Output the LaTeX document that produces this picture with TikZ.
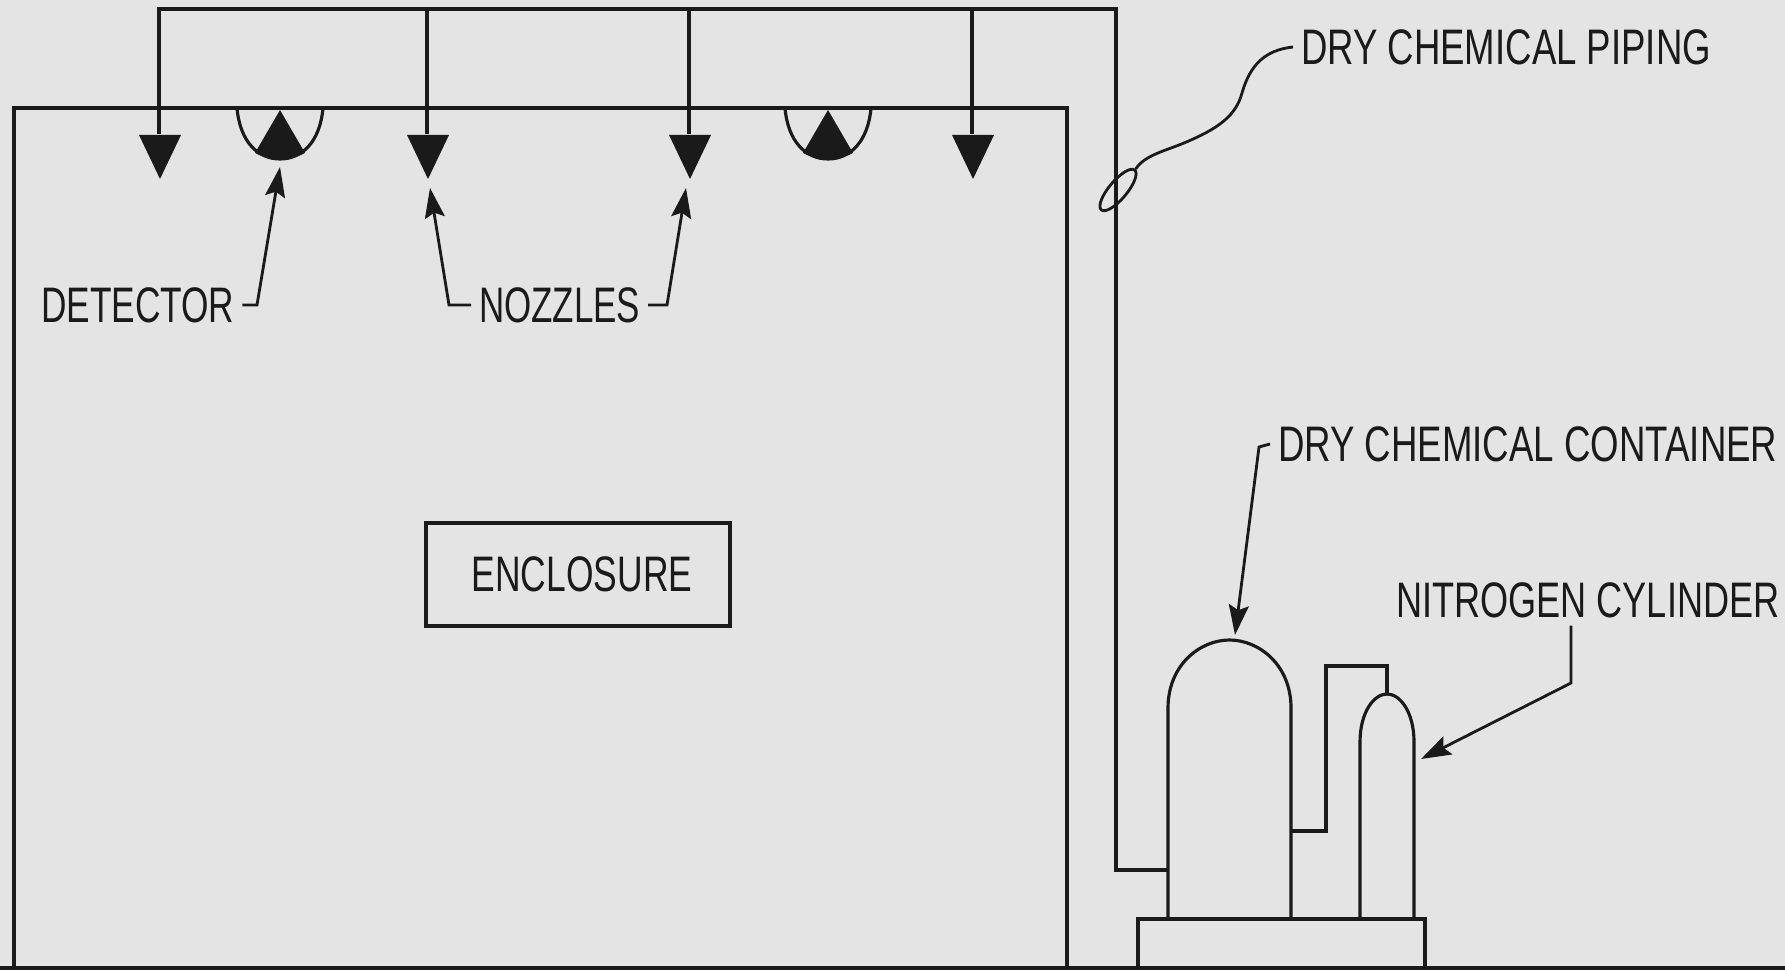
\documentclass[tikz,border=0pt]{standalone}
\usepackage{fontspec}
\setmainfont{Liberation Sans}
\usetikzlibrary{arrows.meta,shapes.geometric}
\definecolor{panelgray}{HTML}{E4E4E4}
\definecolor{inkgray}{HTML}{1A1A1A}
\newcommand{\narrowlabel}[2][0.7]{\scalebox{#1}[1]{#2}}
\tikzset{
  pipe/.style={inkgray,line width=0.9pt},
  wall/.style={inkgray,line width=1.1pt},
  leader/.style={inkgray,line width=0.8pt},
  tipped/.style={leader,-{Stealth[length=0.3cm,width=0.2cm,inset=0.05cm]}},
  tag/.style={anchor=west,inner sep=0pt,outer sep=0.08cm,text=inkgray,
    font=\fontsize{14.2}{16}\selectfont},
}
\begin{document}
\begin{tikzpicture}[x=1cm,y=1cm]
  \path[use as bounding box,fill=panelgray] (0,0) rectangle (17.85,9.70);
  % enclosure
  \draw[wall] (0.14,0.02) -- (0.14,8.62) -- (10.67,8.62) -- (10.67,0.02);
  \draw[wall] (0,0.02) -- (17.85,0.02);
  \node[draw=inkgray,line width=0.9pt,minimum width=3.04cm,minimum height=1.03cm,
    inner sep=0pt,text=inkgray,font=\fontsize{14.2}{16}\selectfont]
    (boxEnclosure) at (5.78,3.955) {\hspace{0.08cm}\narrowlabel[0.71]{ENCLOSURE}};
  % piping and nozzles
  \draw[wall] (1.59,8.36) -- (1.59,9.61) -- (11.16,9.61) -- (11.16,1.00) -- (11.68,1.00);
  \foreach \x/\name in {1.59/a,4.27/b,6.89/c,9.72/d} {
    \draw[pipe] (\x,9.61) -- (\x,8.36);
    \fill[inkgray] (\x-0.20,8.35) -- (\x+0.22,8.35) -- (\x+0.01,7.91) -- cycle;
    \coordinate (nozzle\name) at (\x,7.91);
  }
  % detectors
  \foreach \x/\name in {2.80/a,8.28/b} {
    \draw[pipe] (\x-0.43,8.62) .. controls (\x-0.40,8.28) and (\x-0.22,8.11) ..
      (\x,8.11) .. controls (\x+0.22,8.11) and (\x+0.40,8.28) .. (\x+0.43,8.62);
    \fill[inkgray] (\x,8.60) -- (\x+0.25,8.17) .. controls (\x+0.1,8.09) and
      (\x-0.1,8.09) .. (\x-0.25,8.17) -- cycle;
    \coordinate (detector\name) at (\x,8.11);
  }
  % container, cylinder, base
  \draw[pipe] (11.68,0.51) -- (11.68,2.62) .. controls (11.68,3.05) and (12.00,3.30) ..
    (12.295,3.30) .. controls (12.59,3.30) and (12.91,3.05) .. (12.91,2.62) -- (12.91,0.51);
  \draw[pipe] (13.60,0.51) -- (13.60,2.28) .. controls (13.60,2.58) and (13.74,2.76) ..
    (13.87,2.76) .. controls (14.00,2.76) and (14.14,2.58) .. (14.14,2.28) -- (14.14,0.51);
  \draw[pipe] (12.91,1.39) -- (13.26,1.39) -- (13.26,3.04) -- (13.87,3.04) -- (13.87,2.76);
  \draw[wall] (11.38,0.02) -- (11.38,0.51) -- (14.25,0.51) -- (14.25,0.02);
  % labels
  \node[tag] (lblDetector) at (0.33,6.65) {\narrowlabel[0.707]{DETECTOR}};
  \node[tag] (lblNozzles) at (4.71,6.65) {\narrowlabel{NOZZLES}};
  \node[tag] (lblPiping) at (12.93,9.23) {\narrowlabel[0.733]{DRY CHEMICAL PIPING}};
  \node[tag] (lblContainer) at (12.70,5.26) {\narrowlabel[0.734]{DRY CHEMICAL CONTAINER}};
  \node[tag] (lblCylinder) at (13.88,3.70) {\narrowlabel[0.724]{NITROGEN CYLINDER}};
  % leaders
  \coordinate (tipDetector) at (2.80,8.03);
  \coordinate (tipNozzleL) at (4.30,7.82);
  \coordinate (tipNozzleR) at (6.86,7.82);
  \coordinate (tipContainer) at (12.35,3.35);
  \coordinate (tipCylinder) at (14.21,2.11);
  \draw[tipped] (lblDetector.east) -- (2.57,6.65) -- (tipDetector);
  \draw[tipped] (lblNozzles.west) -- (4.49,6.65) -- (tipNozzleL);
  \draw[tipped] (lblNozzles.east) -- (6.67,6.65) -- (tipNozzleR);
  \draw[tipped] (lblContainer.west) -- (12.59,5.23) -- (tipContainer);
  \draw[tipped] (lblCylinder.south -| 15.71,0) -- (15.71,2.87) -- (tipCylinder);
  \node[draw=inkgray,line width=0.8pt,ellipse,minimum width=0.52cm,minimum height=0.18cm,
    inner sep=0pt,rotate=50] (ringPipe) at (11.18,7.80) {};
  \draw[leader] (lblPiping.west) .. controls (12.65,9.20) and (12.50,9.05) .. (12.42,8.77)
    .. controls (12.36,8.55) and (12.20,8.42) .. (11.84,8.27)
    .. controls (11.65,8.19) and (11.45,8.15) .. (ringPipe.east);
\end{tikzpicture}
\end{document}
